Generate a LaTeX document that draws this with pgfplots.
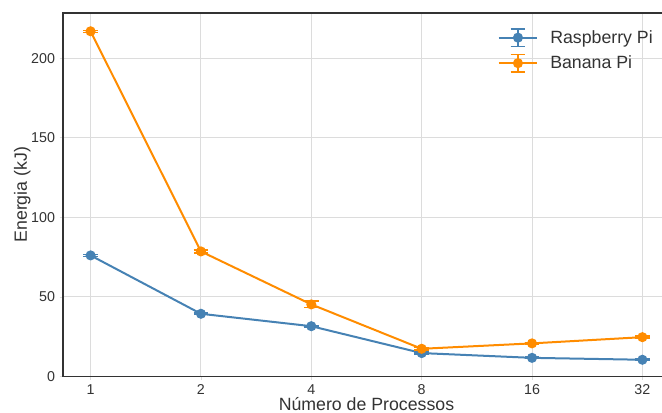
\documentclass[border=0pt]{standalone}
\usepackage{pgfplots}
\pgfplotsset{compat=1.18}
\usepackage{fontspec}
\setmainfont{Liberation Sans}
\usetikzlibrary{calc}
\definecolor{rpi}{HTML}{4682B4}
\definecolor{bpi}{HTML}{FF8C00}
\definecolor{txt}{HTML}{333333}
\definecolor{gridc}{HTML}{DCDCDC}
\pgfplotstableread{
x y e
0 76.1 0.6
1 39.4 0.6
2 31.6 0.6
3 14.7 0.6
4 11.7 0.5
5 10.5 0.5
}\rpidata
\pgfplotstableread{
x y e
0 217.0 0.6
1 78.6 1.0
2 45.3 2.0
3 17.4 0.8
4 20.8 0.6
5 24.7 0.6
}\bpidata
\pgfplotsset{
  errleg/.style={legend image code/.code={
    \draw[#1, line width=1.5pt] (0pt,0pt) -- (29pt,0pt);
    \draw[#1, line width=1.1pt] (14.5pt,-6.5pt) -- (14.5pt,6.5pt);
    \draw[#1, line width=1.1pt] (9pt,-6.5pt) -- (20pt,-6.5pt);
    \draw[#1, line width=1.1pt] (9pt,6.5pt) -- (20pt,6.5pt);
    \fill[#1] (14.5pt,0pt) circle (3pt);
  }}
}
\begin{document}
\begin{tikzpicture}
\begin{axis}[
  name=ax,
  scale only axis,
  width=455.25pt, height=272.6pt,
  xmin=-0.25, xmax=5.25,
  ymin=0, ymax=228.5,
  xtick={0,1,2,3,4,5},
  xticklabels={1,2,4,8,16,32},
  ytick={0,50,100,150,200},
  /pgf/number format/assume math mode=true,
  ticklabel style={font=\fontsize{10.7pt}{12pt}\selectfont, text=txt},
  xlabel={Número de Processos},
  ylabel={Energia (kJ)},
  label style={font=\fontsize{13.3pt}{15pt}\selectfont, text=txt},
  xlabel style={yshift=5pt},
  ylabel style={yshift=-6.5pt},
  grid=major,
  major grid style={draw=gridc, line width=0.8pt},
  axis line style={draw=txt, line width=1pt},
  tick align=outside,
  major tick length=2.5pt,
  tick style={draw=gridc, line width=0.6pt},
  xtick pos=bottom, ytick pos=left,
  legend cell align=left,
  legend style={draw=none, fill=none, at={(rel axis cs:0.709,0.968)}, anchor=north west,
    font=\fontsize{13.3pt}{16pt}\selectfont, text=txt, row sep=4pt,
    /tikz/every odd column/.append style={column sep=7pt}},
]
\addplot[rpi, line width=1.5pt, mark=*, mark size=3pt, mark options={solid},
  errleg={rpi},
  error bars/.cd, y dir=both, y explicit,
  error bar style={line width=1.1pt, rpi},
  error mark options={rotate=90, mark size=5.5pt, line width=1.1pt, rpi}]
  table[x=x, y=y, y error=e] {\rpidata};
\addlegendentry{Raspberry Pi}
\addplot[bpi, line width=1.5pt, mark=*, mark size=3pt, mark options={solid},
  errleg={bpi},
  error bars/.cd, y dir=both, y explicit,
  error bar style={line width=1.1pt, bpi},
  error mark options={rotate=90, mark size=5.5pt, line width=1.1pt, bpi}]
  table[x=x, y=y, y error=e] {\bpidata};
\addlegendentry{Banana Pi}
\end{axis}
\pgfresetboundingbox
\useasboundingbox ($(ax.south west)+(-47.25pt,-27.4pt)$) rectangle ($(ax.north west)+(449.25pt,9.75pt)$);
\end{tikzpicture}
\end{document}
